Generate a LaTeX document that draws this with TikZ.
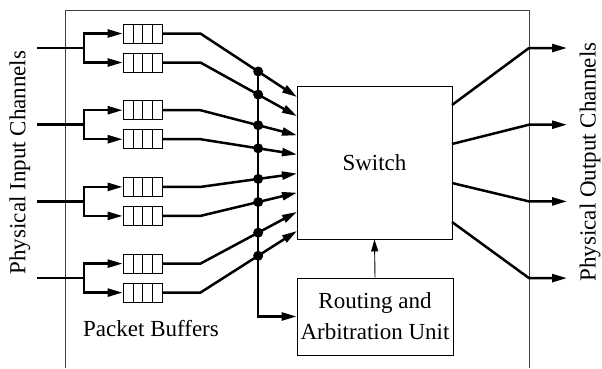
\documentclass[tikz,border=0pt]{standalone}
\usepackage{fontspec}
\setmainfont{Liberation Serif}
\usetikzlibrary{arrows.meta}
\begin{document}
\begin{tikzpicture}[x=1pt,y=-1pt,
  thickln/.style={line width=2.5pt},
  thinln/.style={line width=0.9pt},
  arr/.style={-{Triangle[length=15pt,width=8pt]}},
  smallarr/.style={-{Triangle[length=12pt,width=7pt]}},
  buf/.style={draw, line width=0.8pt, minimum width=39pt, minimum height=19pt, inner sep=0pt,
    path picture={\foreach \k in {1,2,3}
      \draw[line width=0.8pt] ([xshift=\k*9.9pt]path picture bounding box.north west) -- ([xshift=\k*9.9pt]path picture bounding box.south west);}},
  lbl/.style={font=\rmfamily\fontsize{23}{31}\selectfont},
  dot/.style={circle, fill, inner sep=0pt, minimum size=10pt}
]
\useasboundingbox (0,0) rectangle (602,368);
% outer frame
\draw[thinln, black!75] (65,368) -- (65,10) -- (529,10) -- (529,368);
% switch and routing unit
\node[draw, thinln, minimum width=155pt, minimum height=153pt, lbl] (sw) at (374.5,162.5) {Switch};
\node[draw, thinln, minimum width=156pt, minimum height=77pt, lbl, align=center, inner sep=0pt] (ru) at (375,316.5) {Routing and\\Arbitration Unit};
\draw[thinln, smallarr] (ru.north) -- (sw.south);
% inputs
\foreach \k in {0,1,2,3}{
  \pgfmathsetmacro{\yk}{48+76.7*\k}
  \pgfmathsetmacro{\ya}{\yk-14.5}
  \pgfmathsetmacro{\yb}{\yk+14.5}
  \coordinate (in\k) at (37,\yk);
  \coordinate (br\k) at (84,\yk);
  \node[buf] (ba\k) at (142.5,\ya) {};
  \node[buf] (bb\k) at (142.5,\yb) {};
  \draw[thickln] (in\k) -- (br\k);
  \draw[thickln, arr] (br\k) |- (ba\k.west);
  \draw[thickln, arr] (br\k) |- (bb\k.west);
}
% switch input endpoints
\foreach \i in {0,...,7}{
  \pgfmathsetmacro{\ey}{97+19.14*\i}
  \coordinate (e\i) at (297,\ey);
}
\foreach \k/\a/\b in {0/0/1,1/2/3,2/4/5,3/6/7}{
  \draw[thickln, arr] (ba\k.east) -- ++(38,0) -- node[pos=0.598, dot] (d\a) {} (e\a);
  \draw[thickln, arr] (bb\k.east) -- ++(38,0) -- node[pos=0.598, dot] (d\b) {} (e\b);
}
% bus to routing unit
\draw[thickln, arr] (d0.center) |- (ru.west);
% outputs
\foreach \k in {0,1,2,3}{
  \pgfmathsetmacro{\sy}{105+39*\k}
  \pgfmathsetmacro{\oy}{48+76.7*\k}
  \coordinate (s\k) at (452,\sy);
  \coordinate (o\k) at (529,\oy);
  \coordinate (t\k) at (567,\oy);
  \draw[thickln, arr] (s\k) -- (o\k) -- (t\k);
}
% labels
\node[lbl, rotate=90] (inlbl) at (20,162.5) {Physical Input Channels};
\node[lbl, rotate=90] (outlbl) at (590,162) {Physical Output Channels};
\node[lbl, anchor=base west, inner sep=0pt] (pb) at (83,336) {Packet Buffers};
\end{tikzpicture}
\end{document}
